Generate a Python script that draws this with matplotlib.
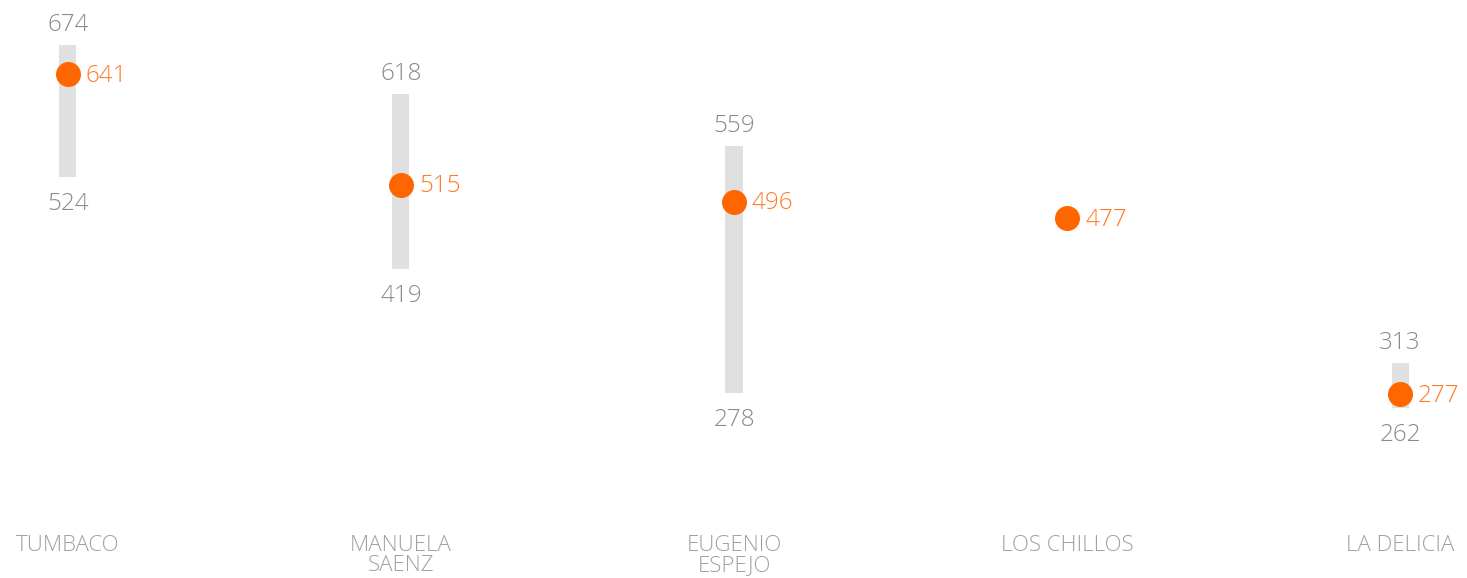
import matplotlib
matplotlib.use('Agg')
import matplotlib.pyplot as plt

# data
zones = ['TUMBACO', 'MANUELA\nSAENZ', 'EUGENIO\nESPEJO', 'LOS CHILLOS', 'LA DELICIA']
maxs = [674, 618, 559, None, 313]
mins = [524, 419, 278, None, 262]
values = [641, 515, 496, 477, 277]

grey_bar = '#e0e0e0'
grey_txt = '#8a8a8a'
cat_txt = '#a0a0a0'
orange = '#ff6600'
orange_txt = '#ff7a26'

plt.rcParams['font.family'] = ['Open Sans', 'DejaVu Sans']
plt.rcParams['font.weight'] = 'light'

fig = plt.figure(figsize=(14.67, 5.78), dpi=100)
ax = fig.add_axes([0, 0, 1, 1])
ax.set_xlim(-0.204, 4.201)
ax.set_ylim(68.3, 725.1)
ax.axis('off')

px = 0.72  # points per pixel at 100 dpi

for i, (hi, lo, v) in enumerate(zip(maxs, mins, values)):
    if hi is not None:
        ax.bar(i, hi - lo, bottom=lo, width=17 / 333, color=grey_bar, zorder=1)
        ax.annotate(str(hi), (i, hi), xytext=(0, 14 * px), textcoords='offset points',
                    ha='center', va='baseline', fontsize=17.5, color=grey_txt)
        ax.annotate(str(lo), (i, lo), xytext=(0, -33 * px), textcoords='offset points',
                    ha='center', va='baseline', fontsize=17.5, color=grey_txt)
    ax.scatter(i, v, s=(25 * px) ** 2, color=orange, zorder=3, linewidths=0)
    ax.annotate(str(v), (i, v), xytext=(18 * px, -7.5 * px), textcoords='offset points',
                ha='left', va='baseline', fontsize=17.5, color=orange_txt)

for i, z in enumerate(zones):
    ax.text(i, 1 - 535 / 578, z, transform=ax.get_xaxis_transform(), ha='center', va='top',
            fontsize=16, color=cat_txt, linespacing=0.93)

fig.savefig('out.png', dpi=100)
